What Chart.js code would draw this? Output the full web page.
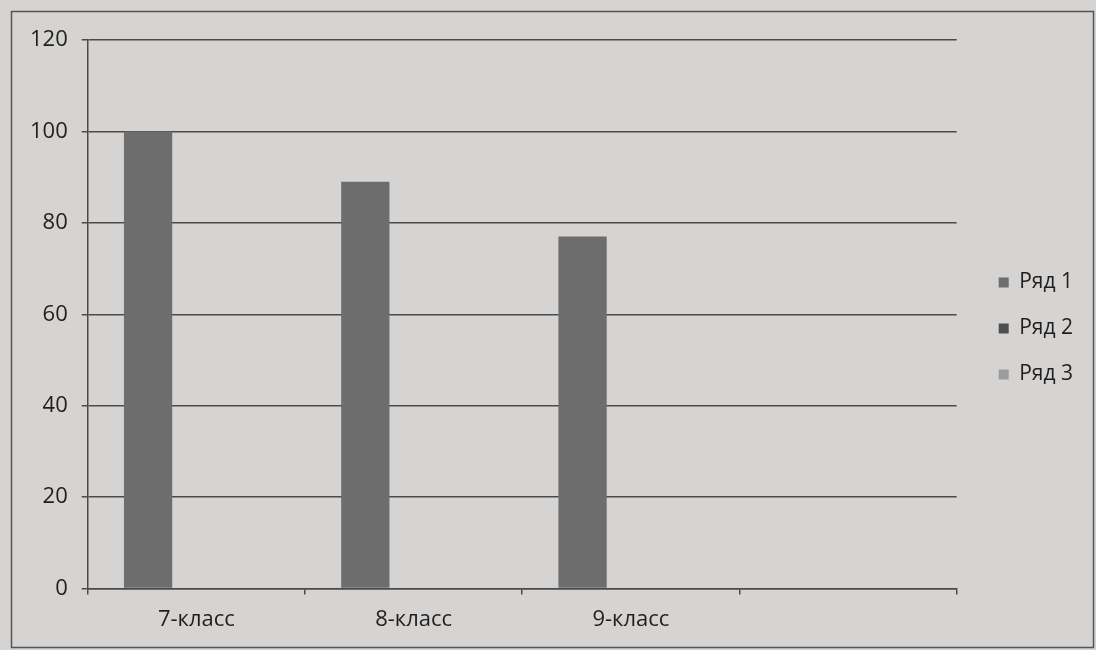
<!DOCTYPE html>
<html>
<head>
<meta charset="utf-8">
<script src="https://cdn.jsdelivr.net/npm/chart.js@4/dist/chart.umd.min.js"></script>
<style>
  html, body { margin: 0; padding: 0; background: #d6d4d2; }
  #wrap { width: 1096px; height: 650px; position: relative; }
</style>
</head>
<body>
<div id="wrap"><canvas id="c" width="1096" height="650"></canvas></div>
<script>
const categories = ['7-класс', '8-класс', '9-класс', ''];
const seriesNames = ['Ряд 1', 'Ряд 2', 'Ряд 3'];
const row1 = [100, 89, 77, null];
const row2 = [null, null, null, null];
const row3 = [null, null, null, null];
const yTicks = [0, 20, 40, 60, 80, 100, 120];

const seriesColors = ['#6d6d6d', '#4e4e4e', '#9c9c9c'];
const lineColor = '#4a4a4a';
const textColor = '#1f1f1f';
const FONT = "'Open Sans', 'DejaVu Sans', sans-serif";

const framePlugin = {
  id: 'frame',
  beforeDraw(chart) {
    const ctx = chart.ctx;
    ctx.save();
    ctx.fillStyle = '#d6d4d2';
    ctx.fillRect(0, 0, chart.width, chart.height);
    ctx.strokeStyle = '#555555';
    ctx.lineWidth = 1.5;
    ctx.strokeRect(11.5, 11.5, 1082, 636);
    ctx.restore();
  }
};

const legendShift = {
  id: 'legendShift',
  afterLayout(chart) {
    const lg = chart.legend;
    if (lg) {
      lg.top -= 14; lg.bottom -= 14;
      lg.left += 17; lg.right += 17;
    }
  }
};

new Chart(document.getElementById('c'), {
  type: 'bar',
  data: {
    labels: categories,
    datasets: [
      { label: seriesNames[0], data: row1, backgroundColor: seriesColors[0] },
      { label: seriesNames[1], data: row2, backgroundColor: seriesColors[1] },
      { label: seriesNames[2], data: row3, backgroundColor: seriesColors[2] }
    ]
  },
  options: {
    responsive: false,
    animation: false,
    devicePixelRatio: 1,
    layout: { padding: { left: 16, right: 30, top: 40, bottom: 5 } },
    datasets: { bar: { categoryPercentage: 3 / 4.5, barPercentage: 1 } },
    plugins: {
      legend: {
        position: 'right',
        align: 'center',
        labels: {
          boxWidth: 10,
          boxHeight: 10,
          padding: 25,
          color: textColor,
          font: { family: FONT, size: 21 }
        }
      },
      tooltip: { enabled: false }
    },
    scales: {
      x: {
        offset: true,
        grid: {
          offset: true,
          display: true,
          drawOnChartArea: false,
          drawTicks: true,
          tickLength: 6,
          color: lineColor,
          lineWidth: 1.5
        },
        border: { display: true, color: lineColor, width: 1.5 },
        ticks: {
          color: textColor,
          padding: 12,
          maxRotation: 0,
          font: { family: FONT, size: 22 }
        }
      },
      y: {
        min: 0,
        max: 120,
        afterBuildTicks(scale) { scale.ticks = yTicks.map(v => ({ value: v })); },
        grid: {
          color: lineColor,
          lineWidth: 1.5,
          drawTicks: true,
          tickLength: 6
        },
        border: { display: true, color: lineColor, width: 1.5 },
        ticks: {
          color: textColor,
          padding: 14,
          font: { family: FONT, size: 22 }
        }
      }
    }
  },
  plugins: [framePlugin, legendShift]
});
</script>
</body>
</html>
